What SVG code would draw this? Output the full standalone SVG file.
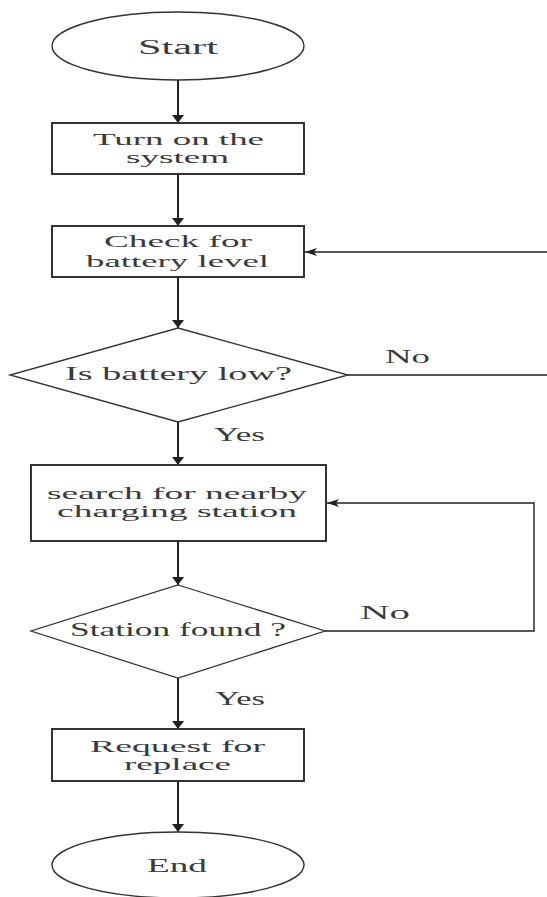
<svg xmlns="http://www.w3.org/2000/svg" width="547" height="897" viewBox="0 0 547 897">
<defs>
<style>
.shape{fill:#fff;stroke:#333;}
.box{stroke-width:2;}
.oval{stroke-width:1.4;}
.dia{stroke-width:1.3;}
.lbl{font-family:"Liberation Serif","Times New Roman",serif;font-size:18px;fill:#3a3a3a;}
.two{font-size:16.5px;}
.big{font-size:20px;}
.v{stroke:#222;stroke-width:2;fill:none;}
.h{stroke:#222;stroke-width:1.4;fill:none;}
</style>
<marker id="av" markerWidth="12" markerHeight="8" refX="6" refY="8" orient="0" markerUnits="userSpaceOnUse">
<path d="M0,0 L12,0 L6,8 Z" fill="#222"/>
</marker>
<marker id="ah" markerWidth="12" markerHeight="8" refX="12" refY="4" orient="auto" markerUnits="userSpaceOnUse">
<path d="M0,0 L12,4 L0,8 L3,4 Z" fill="#222"/>
</marker>
</defs>
<rect width="547" height="897" fill="#fff"/>

<g id="connectors">
<line class="v" x1="178" y1="80" x2="178" y2="123" marker-end="url(#av)"/>
<line class="v" x1="178" y1="174" x2="178" y2="226" marker-end="url(#av)"/>
<line class="v" x1="178" y1="277" x2="178" y2="328" marker-end="url(#av)"/>
<line class="v" x1="178" y1="422" x2="178" y2="465" marker-end="url(#av)"/>
<line class="v" x1="178" y1="541" x2="178" y2="585" marker-end="url(#av)"/>
<line class="v" x1="178" y1="678" x2="178" y2="729" marker-end="url(#av)"/>
<line class="v" x1="178" y1="781" x2="178" y2="832" marker-end="url(#av)"/>
<line class="h" x1="348" y1="375" x2="547" y2="375"/>
<line class="h" x1="547" y1="252" x2="305" y2="252" marker-end="url(#ah)"/>
<polyline class="h" points="325,631 534,631 534,503 327,503" marker-end="url(#ah)"/>
<text class="lbl" x="385" y="363" textLength="45" lengthAdjust="spacingAndGlyphs">No</text>
<text class="lbl" x="214" y="441" textLength="51" lengthAdjust="spacingAndGlyphs">Yes</text>
<text class="lbl" x="360" y="619" textLength="50" lengthAdjust="spacingAndGlyphs">No</text>
<text class="lbl" x="215" y="705" textLength="50" lengthAdjust="spacingAndGlyphs">Yes</text>
</g>

<g id="start">
<ellipse class="shape oval" cx="178" cy="46" rx="126" ry="34"/>
<text class="lbl big" x="138" y="54" textLength="80" lengthAdjust="spacingAndGlyphs">Start</text>
</g>

<g id="turn-on">
<rect class="shape box" x="52" y="123" width="252" height="51"/>
<text class="lbl two" x="93" y="145" textLength="171" lengthAdjust="spacingAndGlyphs">Turn on the</text>
<text class="lbl two" x="126" y="163" textLength="103" lengthAdjust="spacingAndGlyphs">system</text>
</g>

<g id="check-battery">
<rect class="shape box" x="52" y="226" width="252" height="51"/>
<text class="lbl two" x="104" y="247" textLength="148" lengthAdjust="spacingAndGlyphs">Check for</text>
<text class="lbl two" x="86" y="267" textLength="183" lengthAdjust="spacingAndGlyphs">battery level</text>
</g>

<g id="is-low">
<polygon class="shape dia" points="178,328 348,375 178,422 10,375"/>
<text class="lbl" x="65" y="380" textLength="227" lengthAdjust="spacingAndGlyphs">Is battery low?</text>
</g>

<g id="search">
<rect class="shape box" x="31" y="465" width="295" height="76"/>
<text class="lbl two" x="47" y="499" textLength="260" lengthAdjust="spacingAndGlyphs">search for nearby</text>
<text class="lbl two" x="57" y="517" textLength="240" lengthAdjust="spacingAndGlyphs">charging station</text>
</g>

<g id="found">
<polygon class="shape dia" points="178,585 325,631 178,678 31,631"/>
<text class="lbl" x="70" y="636" textLength="216" lengthAdjust="spacingAndGlyphs">Station found ?</text>
</g>

<g id="request">
<rect class="shape box" x="52" y="729" width="252" height="52"/>
<text class="lbl two" x="90" y="752" textLength="175" lengthAdjust="spacingAndGlyphs">Request for</text>
<text class="lbl two" x="124" y="770" textLength="107" lengthAdjust="spacingAndGlyphs">replace</text>
</g>

<g id="end">
<ellipse class="shape oval" cx="178" cy="865" rx="126" ry="33"/>
<text class="lbl" x="147" y="872" textLength="60" lengthAdjust="spacingAndGlyphs">End</text>
</g>
</svg>
